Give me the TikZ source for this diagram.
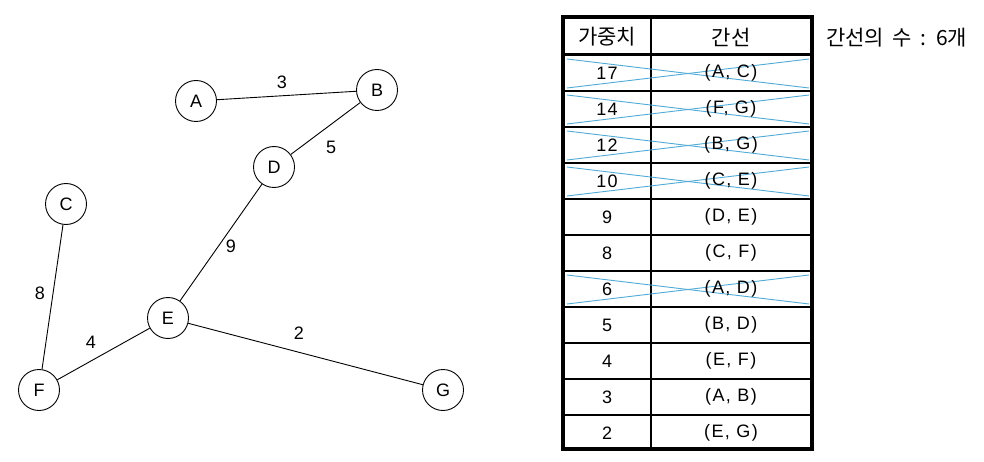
\documentclass[tikz,border=0pt]{standalone}
\usepackage{fontspec}
\setmainfont{Liberation Sans}[LetterSpace=8]
\newfontfamily\kr{Noto Sans CJK KR}[WordSpace=1.8]
\definecolor{crossblue}{RGB}{80,170,215}
\begin{document}
\begin{tikzpicture}[x=1pt,y=-1pt,
  vtx/.style={draw,circle,line width=0.9pt,minimum size=41pt,inner sep=0pt,font=\fontsize{18}{20}\selectfont},
  edge/.style={line width=0.9pt},
  wlab/.style={font=\fontsize{18}{20}\selectfont,inner sep=0pt},
  cell/.style={font=\fontsize{18}{20}\selectfont,inner sep=0pt},
  krcell/.style={font=\fontsize{21}{23}\kr,inner sep=0pt},
  thickline/.style={line width=3.5pt},
  thinline/.style={line width=1.1pt},
  xline/.style={crossblue,line width=0.9pt}]
\useasboundingbox (0,0) rectangle (984,462);
% graph
\node[vtx] (A) at (196,101) {A};
\node[vtx] (B) at (377,90) {B};
\node[vtx] (D) at (274,167) {D};
\node[vtx] (C) at (66,204) {C};
\node[vtx] (E) at (168,318) {E};
\node[vtx] (F) at (39,390) {F};
\node[vtx] (G) at (443,390) {G};
\draw[edge] (A) -- (B);
\draw[edge] (B) -- (D);
\draw[edge] (D) -- (E);
\draw[edge] (C) -- (F);
\draw[edge] (E) -- (F);
\draw[edge] (E) -- (G);
\node[wlab] (w3) at (282,82) {3};
\node[wlab] (w5) at (331,147) {5};
\node[wlab] (w9) at (231,246) {9};
\node[wlab] (w8) at (40,293) {8};
\node[wlab] (w4) at (91,342) {4};
\node[wlab] (w2) at (299,333) {2};
% table
\def\tl{563}\def\tr{812}\def\tm{651}
\foreach \i in {1,...,10}{
  \draw[thinline] (\tl,{55+36*\i}) -- (\tr,{55+36*\i});
}
\draw[thinline] (\tm,17) -- (\tm,449);
\draw[line width=3pt] (\tl,55) -- (\tr,55);
% crosses
\foreach \i in {0,1,2,3,6}{
  \draw[xline] (567,{55+36*\i+4}) -- (809,{55+36*\i+33});
  \draw[xline] (567,{55+36*\i+33}) -- (809,{55+36*\i+4});
}
\draw[thickline] (\tl,17) rectangle (\tr,449);
\node[krcell] (h1) at (607,37) {가중치};
\node[krcell] (h2) at (731,37) {간선};
\foreach \w/\e [count=\i from 0] in {17/{(A, C)},14/{(F, G)},12/{(B, G)},10/{(C, E)},9/{(D, E)},8/{(C, F)},6/{(A, D)},5/{(B, D)},4/{(E, F)},3/{(A, B)},2/{(E, G)}}{
  \node[cell] (w\i) at (607,{73+36*\i}) {\w};
  \node[cell] (e\i) at (731,{73+36*\i}) {\e};
}
\node[krcell,anchor=west] (cnt) at (826,38) {간선의 수 : 6개};
\end{tikzpicture}
\end{document}
